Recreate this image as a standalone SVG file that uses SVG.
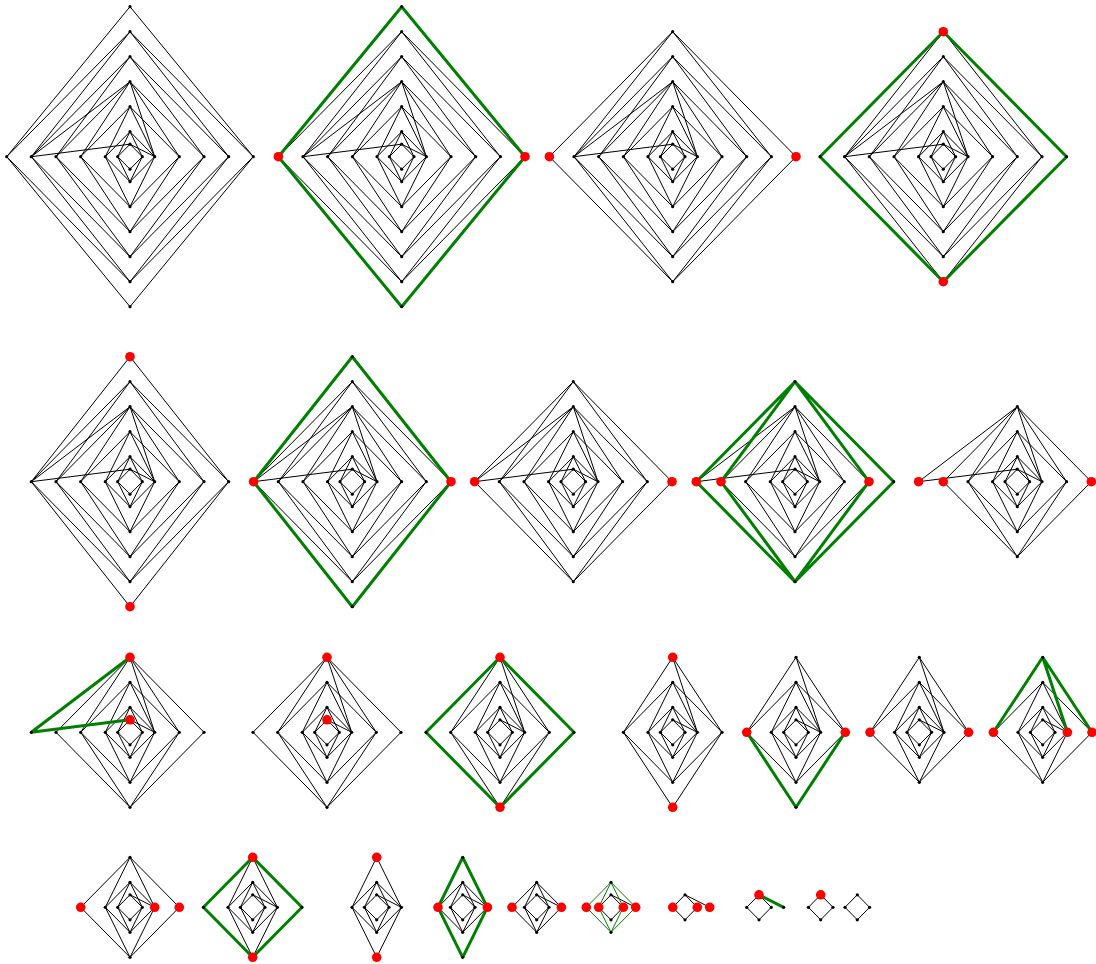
<svg xmlns="http://www.w3.org/2000/svg" width="1096" height="964" viewBox="0 0 1096 964">
<style>
.blk{fill:none;stroke:#000;stroke-width:1}
.grn{fill:none;stroke:#008000;stroke-width:3}
.grt{fill:none;stroke:#008000;stroke-width:1}
.dot{fill:#000}
.red{fill:#ff0000}
</style>
<defs>
<path id="e1" d="M0,-150L-123.3,0M0,-150L123.3,0M0,150L-123.3,0M0,150L123.3,0"/>
<path id="e2" d="M0,-125L-123.3,0M0,-125L123.3,0M0,125L-123.3,0M0,125L123.3,0"/>
<path id="e3" d="M0,-125L-98.7,0M0,-125L98.7,0M0,125L-98.7,0M0,125L98.7,0"/>
<path id="e4" d="M0,-100L-98.7,0M0,-100L-74,0M0,-100L74,0M0,-100L98.7,0M0,100L-98.7,0M0,100L-74,0M0,100L74,0M0,100L98.7,0"/>
<path id="e5" d="M0,-75L-98.7,0M0,-12.5L-98.7,0"/>
<path id="e6" d="M0,-75L-74,0M0,-75L74,0M0,75L-74,0M0,75L74,0"/>
<path id="e7" d="M0,75L-49.3,0M0,75L49.3,0"/>
<path id="e8" d="M0,-75L-49.3,0M0,-75L24.7,0M0,-75L49.3,0"/>
<path id="e9" d="M0,-50L-49.3,0M0,-50L49.3,0M0,50L-49.3,0M0,50L49.3,0"/>
<path id="e10" d="M0,-50L-24.7,0M0,-50L24.7,0M0,50L-24.7,0M0,50L24.7,0"/>
<path id="e11" d="M0,-25L-24.7,0M0,-25L-12.3,0M0,-25L12.3,0M0,-25L24.7,0M0,25L-24.7,0M0,25L-12.3,0M0,25L12.3,0M0,25L24.7,0"/>
<path id="e12" d="M0,-12.5L24.7,0"/>
<path id="e13" d="M0,-12.5L-12.3,0M0,-12.5L12.3,0M0,12.5L-12.3,0M0,12.5L12.3,0"/>
<g id="A13"><use href="#e13"/></g>
<g id="A12"><use href="#e12"/><use href="#A13"/></g>
<g id="A11"><use href="#e11"/><use href="#A12"/></g>
<g id="A10"><use href="#e10"/><use href="#A11"/></g>
<g id="A9"><use href="#e9"/><use href="#A10"/></g>
<g id="A8"><use href="#e8"/><use href="#A9"/></g>
<g id="A7"><use href="#e7"/><use href="#A8"/></g>
<g id="A6"><use href="#e6"/><use href="#A7"/></g>
<g id="A5"><use href="#e5"/><use href="#A6"/></g>
<g id="A4"><use href="#e4"/><use href="#A5"/></g>
<g id="A3"><use href="#e3"/><use href="#A4"/></g>
<g id="A2"><use href="#e2"/><use href="#A3"/></g>
<g id="A1"><use href="#e1"/><use href="#A2"/></g>
<g id="N13"><circle cx="0" cy="-12.5" r="1.6"/><circle cx="0" cy="12.5" r="1.6"/><circle cx="-12.3" cy="0" r="1.6"/><circle cx="12.3" cy="0" r="1.6"/></g>
<g id="N12"><circle cx="24.7" cy="0" r="1.6"/><use href="#N13"/></g>
<g id="N11"><circle cx="0" cy="-25" r="1.6"/><circle cx="0" cy="25" r="1.6"/><circle cx="-24.7" cy="0" r="1.6"/><use href="#N12"/></g>
<g id="N10"><circle cx="0" cy="-50" r="1.6"/><circle cx="0" cy="50" r="1.6"/><use href="#N11"/></g>
<g id="N9"><circle cx="-49.3" cy="0" r="1.6"/><circle cx="49.3" cy="0" r="1.6"/><use href="#N10"/></g>
<g id="N8"><circle cx="0" cy="-75" r="1.6"/><use href="#N9"/></g>
<g id="N7"><circle cx="0" cy="75" r="1.6"/><use href="#N8"/></g>
<g id="N6"><circle cx="-74" cy="0" r="1.6"/><circle cx="74" cy="0" r="1.6"/><use href="#N7"/></g>
<g id="N5"><circle cx="-98.7" cy="0" r="1.6"/><use href="#N6"/></g>
<g id="N4"><circle cx="0" cy="-100" r="1.6"/><circle cx="0" cy="100" r="1.6"/><circle cx="98.7" cy="0" r="1.6"/><use href="#N5"/></g>
<g id="N3"><circle cx="0" cy="-125" r="1.6"/><circle cx="0" cy="125" r="1.6"/><use href="#N4"/></g>
<g id="N2"><circle cx="-123.3" cy="0" r="1.6"/><circle cx="123.3" cy="0" r="1.6"/><use href="#N3"/></g>
<g id="N1"><circle cx="0" cy="-150" r="1.6"/><circle cx="0" cy="150" r="1.6"/><use href="#N2"/></g>
</defs>
<rect x="0" y="0" width="1096" height="964" fill="#fff"/>

<g id="connectors">
<g transform="translate(130,156.7)"><use class="blk" href="#A1"/></g>
<g transform="translate(401.7,156.7)"><use class="blk" href="#A2"/><use class="grn" href="#e1"/></g>
<g transform="translate(672.7,156.7)"><use class="blk" href="#A2"/></g>
<g transform="translate(943.3,156.7)"><use class="blk" href="#A3"/><use class="grn" href="#e2"/></g>
<g transform="translate(130,481.7)"><use class="blk" href="#A3"/></g>
<g transform="translate(352.3,481.7)"><use class="blk" href="#A4"/><use class="grn" href="#e3"/></g>
<g transform="translate(573.3,481.7)"><use class="blk" href="#A4"/></g>
<g transform="translate(795,481.7)"><use class="blk" href="#A5"/><use class="grn" href="#e4"/></g>
<g transform="translate(1017.3,481.7)"><use class="blk" href="#A5"/></g>
<g transform="translate(130,732.3)"><use class="blk" href="#A6"/><use class="grn" href="#e5"/></g>
<g transform="translate(327,732.3)"><use class="blk" href="#A6"/></g>
<g transform="translate(500,732.3)"><use class="blk" href="#A7"/><use class="grn" href="#e6"/></g>
<g transform="translate(672.7,732.3)"><use class="blk" href="#A7"/></g>
<g transform="translate(796,732.3)"><use class="blk" href="#A8"/><use class="grn" href="#e7"/></g>
<g transform="translate(919.3,732.3)"><use class="blk" href="#A8"/></g>
<g transform="translate(1042.7,732.3)"><use class="blk" href="#A9"/><use class="grn" href="#e8"/></g>
<g transform="translate(130,907.3)"><use class="blk" href="#A9"/></g>
<g transform="translate(252.7,907.3)"><use class="blk" href="#A10"/><use class="grn" href="#e9"/></g>
<g transform="translate(376.7,907.3)"><use class="blk" href="#A10"/></g>
<g transform="translate(462.7,907.3)"><use class="blk" href="#A11"/><use class="grn" href="#e10"/></g>
<g transform="translate(536.7,907.3)"><use class="blk" href="#A11"/></g>
<g transform="translate(611,907.3)"><use class="blk" href="#A12"/><use class="grt" href="#e11"/></g>
<g transform="translate(685,907.3)"><use class="blk" href="#A12"/></g>
<g transform="translate(759,907.3)"><use class="blk" href="#A13"/><use class="grn" href="#e12"/></g>
<g transform="translate(820.7,907.3)"><use class="blk" href="#A13"/></g>
<g transform="translate(857.3,907.3)"><use class="blk" href="#A13"/></g>
</g>

<g id="panel-1" transform="translate(130,156.7)"><use class="dot" href="#N1"/></g>
<g id="panel-2" transform="translate(401.7,156.7)"><use class="dot" href="#N1"/><circle class="red" cx="-123.3" cy="0" r="4.8"/><circle class="red" cx="123.3" cy="0" r="4.8"/></g>
<g id="panel-3" transform="translate(672.7,156.7)"><use class="dot" href="#N2"/><circle class="red" cx="-123.3" cy="0" r="4.8"/><circle class="red" cx="123.3" cy="0" r="4.8"/></g>
<g id="panel-4" transform="translate(943.3,156.7)"><use class="dot" href="#N2"/><circle class="red" cx="0" cy="-125" r="4.8"/><circle class="red" cx="0" cy="125" r="4.8"/></g>
<g id="panel-5" transform="translate(130,481.7)"><use class="dot" href="#N3"/><circle class="red" cx="0" cy="-125" r="4.8"/><circle class="red" cx="0" cy="125" r="4.8"/></g>
<g id="panel-6" transform="translate(352.3,481.7)"><use class="dot" href="#N3"/><circle class="red" cx="-98.7" cy="0" r="4.8"/><circle class="red" cx="98.7" cy="0" r="4.8"/></g>
<g id="panel-7" transform="translate(573.3,481.7)"><use class="dot" href="#N4"/><circle class="red" cx="-98.7" cy="0" r="4.8"/><circle class="red" cx="98.7" cy="0" r="4.8"/></g>
<g id="panel-8" transform="translate(795,481.7)"><use class="dot" href="#N4"/><circle class="red" cx="-98.7" cy="0" r="4.8"/><circle class="red" cx="-74" cy="0" r="4.8"/><circle class="red" cx="74" cy="0" r="4.8"/></g>
<g id="panel-9" transform="translate(1017.3,481.7)"><use class="dot" href="#N5"/><circle class="red" cx="-98.7" cy="0" r="4.8"/><circle class="red" cx="-74" cy="0" r="4.8"/><circle class="red" cx="74" cy="0" r="4.8"/></g>
<g id="panel-10" transform="translate(130,732.3)"><use class="dot" href="#N5"/><circle class="red" cx="0" cy="-75" r="4.8"/><circle class="red" cx="0" cy="-12.5" r="4.8"/></g>
<g id="panel-11" transform="translate(327,732.3)"><use class="dot" href="#N6"/><circle class="red" cx="0" cy="-75" r="4.8"/><circle class="red" cx="0" cy="-12.5" r="4.8"/></g>
<g id="panel-12" transform="translate(500,732.3)"><use class="dot" href="#N6"/><circle class="red" cx="0" cy="-75" r="4.8"/><circle class="red" cx="0" cy="75" r="4.8"/></g>
<g id="panel-13" transform="translate(672.7,732.3)"><use class="dot" href="#N7"/><circle class="red" cx="0" cy="-75" r="4.8"/><circle class="red" cx="0" cy="75" r="4.8"/></g>
<g id="panel-14" transform="translate(796,732.3)"><use class="dot" href="#N7"/><circle class="red" cx="-49.3" cy="0" r="4.8"/><circle class="red" cx="49.3" cy="0" r="4.8"/></g>
<g id="panel-15" transform="translate(919.3,732.3)"><use class="dot" href="#N8"/><circle class="red" cx="-49.3" cy="0" r="4.8"/><circle class="red" cx="49.3" cy="0" r="4.8"/></g>
<g id="panel-16" transform="translate(1042.7,732.3)"><use class="dot" href="#N8"/><circle class="red" cx="-49.3" cy="0" r="4.8"/><circle class="red" cx="24.7" cy="0" r="4.8"/><circle class="red" cx="49.3" cy="0" r="4.8"/></g>
<g id="panel-17" transform="translate(130,907.3)"><use class="dot" href="#N9"/><circle class="red" cx="-49.3" cy="0" r="4.8"/><circle class="red" cx="24.7" cy="0" r="4.8"/><circle class="red" cx="49.3" cy="0" r="4.8"/></g>
<g id="panel-18" transform="translate(252.7,907.3)"><use class="dot" href="#N9"/><circle class="red" cx="0" cy="-50" r="4.8"/><circle class="red" cx="0" cy="50" r="4.8"/></g>
<g id="panel-19" transform="translate(376.7,907.3)"><use class="dot" href="#N10"/><circle class="red" cx="0" cy="-50" r="4.8"/><circle class="red" cx="0" cy="50" r="4.8"/></g>
<g id="panel-20" transform="translate(462.7,907.3)"><use class="dot" href="#N10"/><circle class="red" cx="-24.7" cy="0" r="4.8"/><circle class="red" cx="24.7" cy="0" r="4.8"/></g>
<g id="panel-21" transform="translate(536.7,907.3)"><use class="dot" href="#N11"/><circle class="red" cx="-24.7" cy="0" r="4.8"/><circle class="red" cx="24.7" cy="0" r="4.8"/></g>
<g id="panel-22" transform="translate(611,907.3)"><use class="dot" href="#N11"/><circle class="red" cx="-24.7" cy="0" r="4.8"/><circle class="red" cx="-12.3" cy="0" r="4.8"/><circle class="red" cx="12.3" cy="0" r="4.8"/><circle class="red" cx="24.7" cy="0" r="4.8"/></g>
<g id="panel-23" transform="translate(685,907.3)"><use class="dot" href="#N12"/><circle class="red" cx="-12.3" cy="0" r="4.8"/><circle class="red" cx="12.3" cy="0" r="4.8"/><circle class="red" cx="24.7" cy="0" r="4.8"/></g>
<g id="panel-24" transform="translate(759,907.3)"><use class="dot" href="#N12"/><circle class="red" cx="0" cy="-12.5" r="4.8"/></g>
<g id="panel-25" transform="translate(820.7,907.3)"><use class="dot" href="#N13"/><circle class="red" cx="0" cy="-12.5" r="4.8"/></g>
<g id="panel-26" transform="translate(857.3,907.3)"><use class="dot" href="#N13"/></g>
</svg>
